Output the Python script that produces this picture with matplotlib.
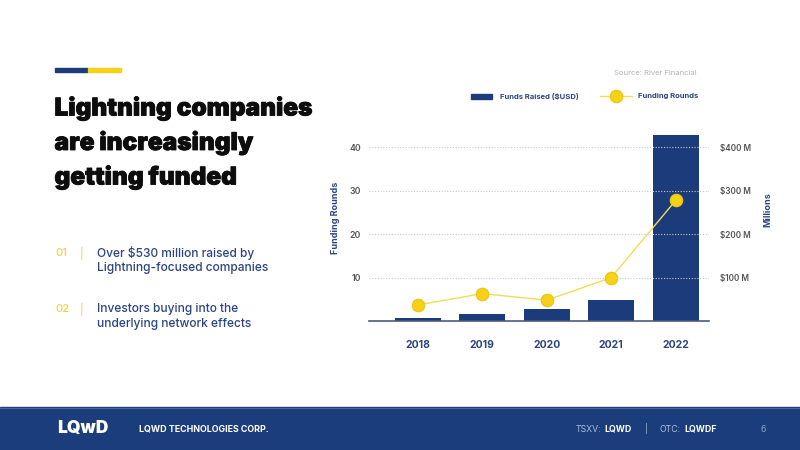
import matplotlib
matplotlib.use("Agg")
import matplotlib.pyplot as plt
from matplotlib.patches import Rectangle
from matplotlib.lines import Line2D
import matplotlib.patheffects as pe
import numpy as np

plt.rcParams['font.family'] = ['Inter', 'DejaVu Sans']

years = ["2018", "2019", "2020", "2021", "2022"]
funds_musd = [7.5, 15, 27, 48, 428]
funding_rounds = [3.7, 6.3, 4.8, 10, 27.8]
left_ticks = [10, 20, 30, 40]
right_ticks = [100, 200, 300, 400]
right_labels = ["$100 M", "$200 M", "$300 M", "$400 M"]

NAVY = '#1b3b7a'
YELLOW = '#f7d117'
TXT_NAVY = '#2c4480'
W, H = 800, 450

def fx(x):
    return x / W

def fy(y):
    return 1 - y / H

fig = plt.figure(figsize=(8, 4.5), dpi=100)
fig.patch.set_facecolor('white')

# axes
ax = fig.add_axes([fx(369.3), fy(321), (709.3 - 369.3) / W, 45 * 4.34 / H])
ax2 = ax.twinx()
x = np.arange(len(years))
ax.bar(x, funds_musd, width=0.71, color=NAVY, zorder=2)
ax.set_ylim(0, 450)
ax.set_xlim(-0.75, 4.52)
ax.set_axisbelow(False)
ax.grid(axis='y', linestyle=(0, (1, 1.5)), color='#c9c9c9', lw=0.8, zorder=3)
ax.set_xticks(x)
ax.set_xticklabels(years)
ax.tick_params(axis='x', length=0, pad=14, labelsize=7.5, labelcolor=TXT_NAVY)
for t in ax.get_xticklabels():
    t.set_fontweight('bold')
for s in ['top', 'left', 'right']:
    ax.spines[s].set_visible(False)
ax.spines['bottom'].set_color('#4a5a80')
ax.spines['bottom'].set_linewidth(1.2)

ax2.plot(x, funding_rounds, color='#f3dc55', lw=1.0, marker='o', markersize=9,
         markerfacecolor=YELLOW, markeredgecolor='#e9c40f', markeredgewidth=0.8, zorder=5)
ax2.set_ylim(0, 45)
ax2.set_yticks(left_ticks)
ax2.yaxis.tick_left()
ax2.tick_params(axis='y', length=0, pad=6, labelsize=6.3, labelcolor='#555555')
for t in ax2.get_yticklabels():
    t.set_fontweight('semibold')
for s in ['top', 'left', 'right', 'bottom']:
    ax2.spines[s].set_visible(False)

ax.yaxis.tick_right()
ax.set_yticks(right_ticks)
ax.set_yticklabels(right_labels)
ax.tick_params(axis='y', length=0, pad=8, labelsize=5.9, labelcolor='#555555')
for t in ax.get_yticklabels():
    t.set_fontweight('semibold')

fig.text(fx(335), fy(218), "Funding Rounds", rotation=90, ha='center', va='center',
         fontsize=6.5, fontweight='bold', color=TXT_NAVY)
fig.text(fx(768), fy(210), "Millions", rotation=90, ha='center', va='center',
         fontsize=6.5, fontweight='bold', color=TXT_NAVY)

# legend (manual)
fig.add_artist(Rectangle((fx(471), fy(98.5)), 21 / W, 5 / H, transform=fig.transFigure,
                         color=NAVY))
fig.text(fx(500), fy(96), "Funds Raised ($USD)", ha='left', va='center',
         fontsize=5.5, fontweight='bold', color=TXT_NAVY)
fig.add_artist(Line2D([fx(600), fx(632)], [fy(96), fy(96)], transform=fig.transFigure,
                      color='#f3dc55', lw=1.0))
fig.add_artist(Line2D([fx(616)], [fy(96)], transform=fig.transFigure, marker='o',
                      markersize=9, markerfacecolor=YELLOW, markeredgecolor='#e9c40f',
                      markeredgewidth=0.8, linestyle='none'))
fig.text(fx(638), fy(96), "Funding Rounds", ha='left', va='center',
         fontsize=5.5, fontweight='bold', color=TXT_NAVY)
fig.text(fx(697), fy(73), "Source: River Financial", ha='right', va='center',
         fontsize=5.5, color='#b0b0b0')

# decoration bar
fig.add_artist(Rectangle((fx(55), fy(72)), 33 / W, 4 / H, transform=fig.transFigure, color=NAVY))
fig.add_artist(Rectangle((fx(88), fy(72)), 33 / W, 4 / H, transform=fig.transFigure, color=YELLOW))

# title
for i, line in enumerate(["Lightning companies", "are increasingly", "getting funded"]):
    fig.text(fx(54.5), fy(108 + i * 34.5), line, ha='left', va='center',
             fontsize=17.6, fontweight='black', color='#0d0d0d',
             path_effects=[pe.withStroke(linewidth=0.6, foreground='#0d0d0d')])

# bullets
bullets = [("01", ["Over $530 million raised by", "Lightning-focused companies"], 253),
           ("02", ["Investors buying into the", "underlying network effects"], 309)]
for num, lines, y0 in bullets:
    fig.text(fx(55), fy(y0), num, ha='left', va='center', fontsize=8, fontweight='medium',
             color='#f2d23c')
    fig.text(fx(81), fy(y0), "|", ha='center', va='center', fontsize=8, color='#f2d23c')
    for j, l in enumerate(lines):
        fig.text(fx(97), fy(y0 + j * 15.5), l, ha='left', va='center', fontsize=8.6,
                 fontweight='medium', color=TXT_NAVY)

# footer
fig.add_artist(Rectangle((0, 0), 1, 43 / H, transform=fig.transFigure, color='#1c3d7b'))
fig.add_artist(Line2D([0, 1], [fy(407.5), fy(407.5)], transform=fig.transFigure,
                      color='#4a65a0', lw=0.8))
fig.text(fx(57), fy(429), "LQwD", ha='left', va='center', fontsize=12.5,
         fontweight='black', color='white')
fig.text(fx(139), fy(429), "LQWD TECHNOLOGIES CORP.", ha='left', va='center',
         fontsize=6.4, fontweight='bold', color='white')
fig.text(fx(576), fy(429), "TSXV:", ha='left', va='center', fontsize=6.3, color='#aebcdc')
fig.text(fx(604), fy(429), "LQWD", ha='left', va='center', fontsize=6.3,
         fontweight='bold', color='white')
fig.text(fx(646), fy(429), "|", ha='center', va='center', fontsize=6.3, color='#aebcdc')
fig.text(fx(660), fy(429), "OTC:", ha='left', va='center', fontsize=6.3, color='#aebcdc')
fig.text(fx(684), fy(429), "LQWDF", ha='left', va='center', fontsize=6.3,
         fontweight='bold', color='white')
fig.text(fx(763), fy(429), "6", ha='center', va='center', fontsize=6.3, color='#8fa0c8')

fig.savefig("out.png", dpi=100)
